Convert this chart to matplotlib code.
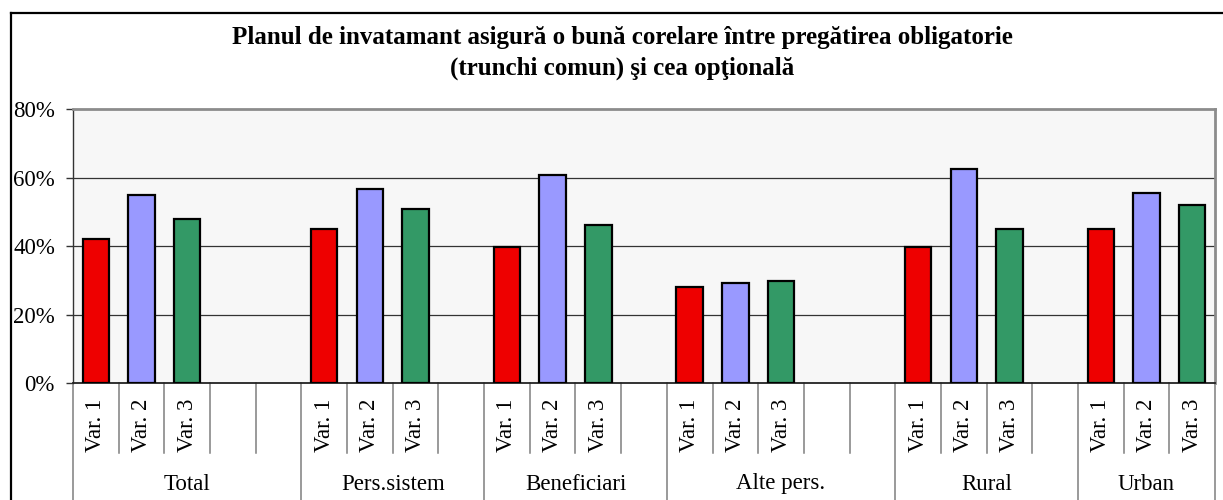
import matplotlib
matplotlib.use("Agg")
import matplotlib.pyplot as plt
from matplotlib.lines import Line2D
from matplotlib.ticker import PercentFormatter

plt.rcParams['font.family'] = ['Liberation Serif', 'DejaVu Serif']

# ---- data ----
groups = ["Total", "Pers.sistem", "Beneficiari", "Alte pers.", "Rural", "Urban"]
group_slots = [5, 4, 4, 5, 4, 3]          # number of category slots per group
series_labels = ["Var. 1", "Var. 2", "Var. 3"]
var1 = [42.1, 45.0, 39.9, 28.1, 39.8, 45.1]
var2 = [55.0, 56.7, 60.8, 29.4, 62.6, 55.6]
var3 = [48.1, 51.0, 46.2, 29.9, 45.1, 52.1]
yticks = [0, 20, 40, 60, 80]
title = ("Planul de invatamant asigură o bună corelare între pregătirea obligatorie\n"
         "(trunchi comun) şi cea opţională")

colors = ["#EE0000", "#9999FF", "#339966"]

W, H = 1223, 500
fig = plt.figure(figsize=(W / 100, H / 100), dpi=100)
fig.patch.set_facecolor("white")

# axes placement in pixels
left, right, top, bottom = 73, 1215, 109.3, 383.3
ax = fig.add_axes([left / W, 1 - bottom / H, (right - left) / W, (bottom - top) / H])
ax.set_facecolor("#F7F7F7")

nslots = sum(group_slots)
ax.set_xlim(0, nslots)
ax.set_ylim(0, 80)

series = [var1, var2, var3]
starts = []
s = 0
for n in group_slots:
    starts.append(s)
    s += n

bw = 0.58
for si, vals in enumerate(series):
    xs = [st + si + 0.5 for st in starts]
    ax.bar(xs, vals, width=bw, color=colors[si], edgecolor="black", linewidth=1.6, zorder=3)

# grid
ax.set_yticks(yticks)
ax.yaxis.set_major_formatter(PercentFormatter(decimals=0))
for y in yticks[1:-1]:
    ax.axhline(y, color="#333333", linewidth=0.9, zorder=1)

ax.tick_params(axis="y", length=5, width=1, color="#333333", pad=8, labelsize=16.5)
ax.set_xticks([])

for sp in ["top", "right"]:
    ax.spines[sp].set_color("#8C8C8C")
    ax.spines[sp].set_linewidth(2)
ax.spines["left"].set_color("#333333")
ax.spines["left"].set_linewidth(1)
ax.spines["bottom"].set_color("#222222")
ax.spines["bottom"].set_linewidth(1.3)

# multi-level category axis
axh = bottom - top
def yax(px):  # pixel y below axis -> axes fraction
    return -(px - bottom) / axh

tr = ax.get_xaxis_transform()
short_end = yax(453)
tall_end = yax(520)
label_top = yax(399)
group_y = yax(484)

for gi, (st, n) in enumerate(zip(starts, group_slots)):
    # group boundary (tall)
    ax.plot([st, st], [0, tall_end], transform=tr, color="#7F7F7F", linewidth=1.1, clip_on=False)
    for k in range(1, n):
        ax.plot([st + k, st + k], [0, short_end], transform=tr, color="#7F7F7F",
                linewidth=1.1, clip_on=False)
    for k in range(min(3, n)):
        ax.text(st + k + 0.5, label_top, series_labels[k], transform=tr, rotation=90,
                ha="center", va="top", fontsize=16.5)
    ax.text(st + n / 2, group_y, groups[gi], transform=tr, ha="center", va="center",
            fontsize=16.5)
ax.plot([nslots, nslots], [0, tall_end], transform=tr, color="#7F7F7F", linewidth=1.1, clip_on=False)

# title
fig.text(622 / W, 1 - 53 / H, title, ha="center", va="center", fontsize=18,
         fontweight="bold", linespacing=1.4)

# outer chart frame (top and left visible)
fx, fy = 11 / W, 1 - 13 / H
fig.add_artist(Line2D([fx, 1.0], [fy, fy], color="black", linewidth=1.6))
fig.add_artist(Line2D([fx, fx], [0, fy], color="black", linewidth=1.6))

fig.savefig("out.png", dpi=100)
